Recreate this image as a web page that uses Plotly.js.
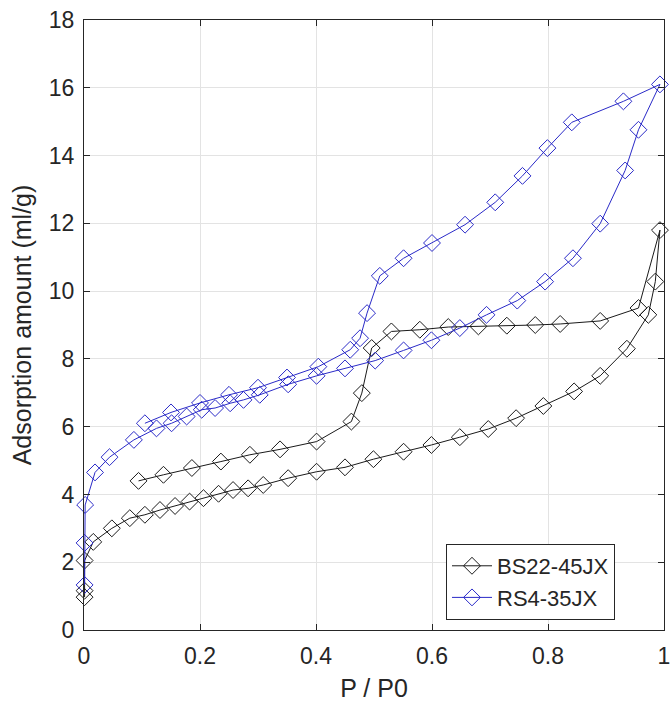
<!DOCTYPE html>
<html>
<head>
<meta charset="utf-8">
<script src="https://cdn.plot.ly/plotly-3.0.1.min.js"></script>
<style>
html,body{margin:0;padding:0;background:#fff;}
#chart{width:670px;height:702px;}
</style>
</head>
<body>
<div id="chart"></div>
<script>
// BS22-45JX: adsorption branch then desorption branch (one connected line)
const bsP = [0.001, 0.001, 0.001, 0.016, 0.048, 0.079, 0.105, 0.131, 0.157, 0.182, 0.206, 0.232, 0.257, 0.283, 0.309, 0.352, 0.401, 0.45, 0.499, 0.551, 0.599, 0.648, 0.697, 0.745, 0.792, 0.845, 0.89, 0.936, 0.973, 0.985, 0.993,
             0.956, 0.89, 0.821, 0.778, 0.729, 0.68, 0.628, 0.579, 0.53, 0.496, 0.479, 0.461, 0.401, 0.338, 0.286, 0.236, 0.186, 0.137, 0.094];
const bsV = [0.97, 1.16, 2.05, 2.6, 3.0, 3.3, 3.4, 3.54, 3.66, 3.79, 3.89, 4.02, 4.13, 4.18, 4.28, 4.48, 4.67, 4.8, 5.04, 5.26, 5.46, 5.69, 5.93, 6.25, 6.61, 7.04, 7.5, 8.3, 9.3, 10.28, 11.8,
             9.5, 9.12, 9.03, 9.0, 8.98, 8.96, 8.94, 8.86, 8.81, 8.32, 6.99, 6.15, 5.56, 5.33, 5.17, 4.97, 4.78, 4.58, 4.4];
// RS4-35JX
const rsP = [0.001, 0.001, 0.002, 0.019, 0.044, 0.086, 0.125, 0.151, 0.177, 0.203, 0.226, 0.252, 0.275, 0.303, 0.352, 0.401, 0.45, 0.502, 0.551, 0.599, 0.648, 0.694, 0.747, 0.795, 0.843, 0.89, 0.933, 0.956, 0.993,
             0.93, 0.841, 0.799, 0.756, 0.709, 0.657, 0.6, 0.551, 0.51, 0.488, 0.476, 0.459, 0.404, 0.35, 0.3, 0.25, 0.2, 0.15, 0.105];
const rsV = [1.33, 2.57, 3.69, 4.65, 5.1, 5.61, 5.95, 6.1, 6.3, 6.5, 6.55, 6.69, 6.79, 6.94, 7.25, 7.5, 7.72, 7.95, 8.25, 8.55, 8.91, 9.3, 9.72, 10.28, 10.97, 11.99, 13.56, 14.76, 16.1,
             15.6, 14.98, 14.22, 13.4, 12.62, 11.96, 11.42, 10.97, 10.45, 9.35, 8.61, 8.27, 7.77, 7.45, 7.15, 6.94, 6.7, 6.42, 6.1];

const seriesNames = ['BS22-45JX', 'RS4-35JX'];
const seriesColors = ['#1a1a1a', '#2a2ac8'];
const xTicks = [0, 0.2, 0.4, 0.6, 0.8, 1];
const yTicks = [0, 2, 4, 6, 8, 10, 12, 14, 16, 18];

const font = 'Liberation Sans, Arial, sans-serif';
function mk(x, y, i) {
  return {
    x: x, y: y, name: seriesNames[i], type: 'scatter', mode: 'lines+markers',
    line: {color: seriesColors[i], width: 1},
    marker: {symbol: 'diamond-open', size: 13, color: seriesColors[i], line: {color: seriesColors[i], width: 1}},
    cliponaxis: false
  };
}
const data = [mk(bsP, bsV, 0), mk(rsP, rsV, 1)];
const axisCommon = {
  showline: true, mirror: 'ticks', linecolor: '#262626', linewidth: 1,
  ticks: 'inside', ticklen: 6, tickcolor: '#262626', tickwidth: 1,
  showgrid: true, gridcolor: '#e3e3e3', gridwidth: 1, zeroline: false,
  ticklabeloverflow: 'allow',
  tickfont: {family: font, size: 23, color: '#262626'}
};
const layout = {
  width: 670, height: 702,
  margin: {l: 84, r: 6, t: 20, b: 72},
  paper_bgcolor: '#fff', plot_bgcolor: '#fff',
  showlegend: true,
  xaxis: Object.assign({}, axisCommon, {
    range: [0, 1], tickvals: xTicks, ticktext: xTicks.map(String),
    ticklabelstandoff: 5,
    title: {text: 'P / P0', font: {family: font, size: 25, color: '#262626'}, standoff: 12}
  }),
  yaxis: Object.assign({}, axisCommon, {
    range: [0, 18], tickvals: yTicks, ticktext: yTicks.map(String),
    ticklabelstandoff: 4,
    title: {text: 'Adsorption amount (ml/g)', font: {family: font, size: 25, color: '#262626'}, standoff: 10}
  }),
  legend: {
    x: 0.9155, y: 0.0164, xanchor: 'right', yanchor: 'bottom',
    bgcolor: '#fff', bordercolor: '#262626', borderwidth: 1,
    font: {family: font, size: 22, color: '#262626'},
    itemwidth: 40, tracegroupgap: 0
  }
};
Plotly.newPlot('chart', data, layout, {displayModeBar: false, staticPlot: true});
</script>
</body>
</html>
